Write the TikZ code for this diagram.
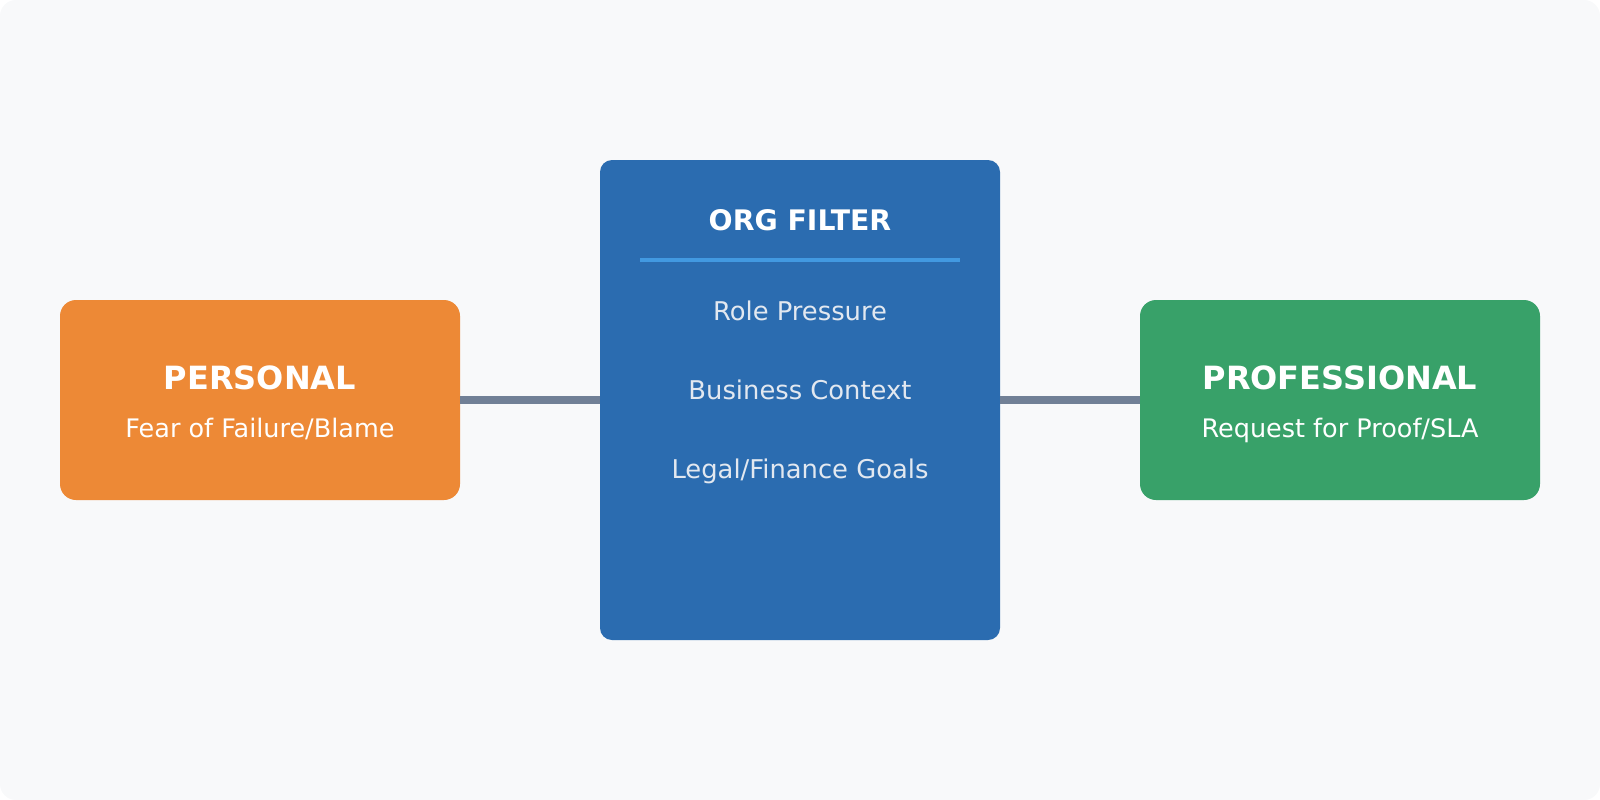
\documentclass[tikz,border=0pt]{standalone}
\usepackage{fontspec}
\setmainfont{DejaVu Sans}
\definecolor{bg}{HTML}{F8F9FA}
\definecolor{orangebox}{HTML}{ED8936}
\definecolor{bluebox}{HTML}{2B6CB0}
\definecolor{greenbox}{HTML}{38A169}
\definecolor{link}{HTML}{718096}
\definecolor{divider}{HTML}{4299E1}
\definecolor{itemtext}{HTML}{E2E8F0}
\tikzset{
  box/.style={rounded corners=16pt, inner sep=0pt, minimum width=400pt, minimum height=200pt},
  title/.style={text=white, anchor=base, font=\fontsize{32}{36}\selectfont\bfseries},
  sub/.style={text=white, anchor=base, font=\fontsize{25.5}{30}\selectfont},
  item/.style={text=itemtext, anchor=base, font=\fontsize{25.8}{30}\selectfont},
  connector/.style={draw=link, line width=8pt},
}
\begin{document}
\begin{tikzpicture}[x=1pt,y=-1pt]
\useasboundingbox (0,0) rectangle (1600,800);
\fill[bg, rounded corners=16pt] (0,0) rectangle (1600,800);
\node[box, fill=orangebox] (personal) at (260,400) {};
\node[box, fill=bluebox, rounded corners=12pt, minimum height=480pt] (org) at (800,400) {};
\node[box, fill=greenbox] (prof) at (1340,400) {};
\draw[connector] (personal.east) -- (org.west);
\draw[connector] (org.east) -- (prof.west);
\coordinate (dl) at (640,260);
\coordinate (dr) at (960,260);
\draw[divider, line width=4pt] (dl) -- (dr);
\node[title] (pt) at (260,389) {PERSONAL};
\node[sub] (ps) at (260,437) {Fear of Failure/Blame};
\node[title] (prt) at (1340,389) {PROFESSIONAL};
\node[sub] (prs) at (1340,437) {Request for Proof/SLA};
\node[title, font=\fontsize{28.3}{32}\selectfont\bfseries] (ot) at (800,230) {ORG FILTER};
\node[item] (i1) at (800,320) {Role Pressure};
\node[item] (i2) at (800,399) {Business Context};
\node[item] (i3) at (800,478) {Legal/Finance Goals};
\end{tikzpicture}
\end{document}
